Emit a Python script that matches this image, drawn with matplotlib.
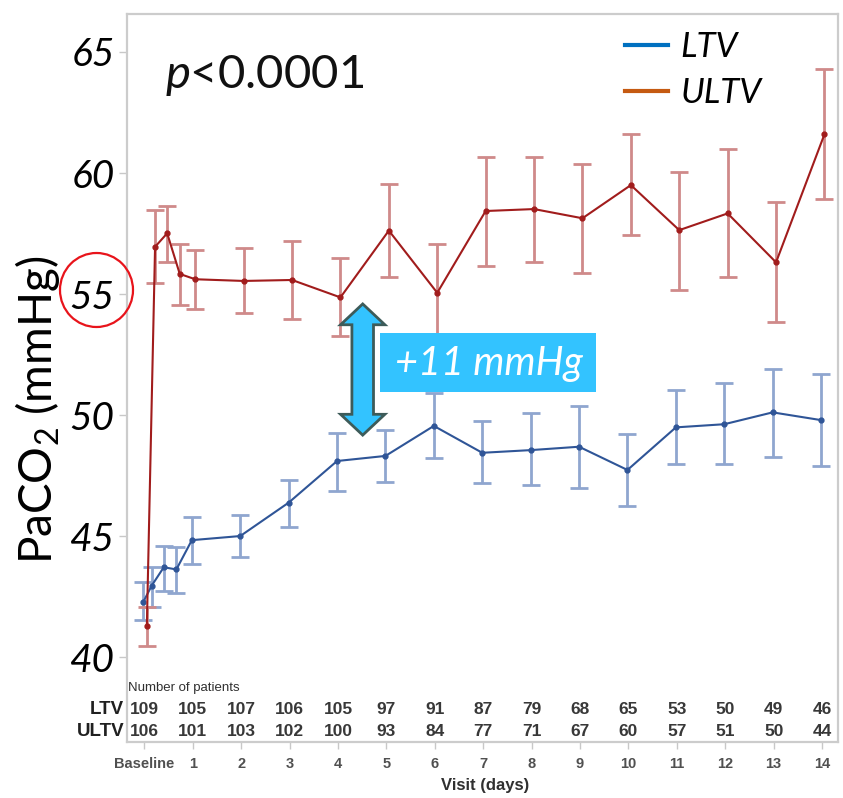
import matplotlib
matplotlib.use("Agg")
import matplotlib.pyplot as plt
from matplotlib.lines import Line2D
from matplotlib.patches import Ellipse, Polygon, Rectangle
import numpy as np

plt.rcParams['font.family'] = ['Lato', 'DejaVu Sans']
plt.rcParams['mathtext.fontset'] = 'custom'
plt.rcParams['mathtext.rm'] = 'Lato'
plt.rcParams['mathtext.it'] = 'Lato:italic'

# Visit time (days); baseline = 0, first day has extra early samples
TIME = [0, 0.17, 0.42, 0.68, 1, 2, 3, 4, 5, 6, 7, 8, 9, 10, 11, 12, 13, 14]

LTV_MEAN = [42.29, 42.95, 43.71, 43.62, 44.83, 45.00, 46.38, 48.10, 48.31,
            49.55, 48.44, 48.55, 48.69, 47.73, 49.49, 49.62, 50.11, 49.79]
LTV_LOW = [41.53, 42.05, 42.74, 42.66, 43.84, 44.14, 45.38, 46.87, 47.22,
           48.21, 47.20, 47.11, 46.97, 46.25, 47.98, 47.98, 48.25, 47.90]
LTV_HIGH = [43.09, 43.73, 44.59, 44.56, 45.77, 45.87, 47.31, 49.27, 49.38,
            50.89, 49.75, 50.07, 50.37, 49.20, 51.03, 51.31, 51.90, 51.68]

ULTV_MEAN = [41.28, 56.95, 57.51, 55.83, 55.61, 55.54, 55.58, 54.86, 57.62,
             55.05, 58.43, 58.51, 58.13, 59.50, 57.64, 58.33, 56.31, 61.60]
ULTV_LOW = [40.47, 55.44, 56.33, 54.55, 54.37, 54.20, 53.97, 53.26, 55.71,
            53.03, 56.16, 56.34, 55.88, 57.43, 55.17, 55.69, 53.83, 58.91]
ULTV_HIGH = [42.05, 58.47, 58.64, 57.07, 56.82, 56.89, 57.19, 56.47, 59.53,
             57.07, 60.67, 60.65, 60.36, 61.61, 60.05, 60.99, 58.79, 64.28]

DAYS = list(range(15))
DAY_LABELS = ["Baseline"] + [str(d) for d in range(1, 15)]
N_LTV = [109, 105, 107, 106, 105, 97, 91, 87, 79, 68, 65, 53, 50, 49, 46]
N_ULTV = [106, 101, 103, 102, 100, 93, 84, 77, 71, 67, 60, 57, 51, 50, 44]

Y_TICKS = [40, 45, 50, 55, 60, 65]
DIFF_LABEL = "+11 mmHg"

fig = plt.figure(figsize=(8.43, 7.98), dpi=100)
ax = fig.add_axes([127 / 843, 1 - 742 / 798, 711 / 843, 728 / 798])

series = [
    (LTV_MEAN, LTV_LOW, LTV_HIGH, -0.02, '#2F5597', '#8FA6CF'),
    (ULTV_MEAN, ULTV_LOW, ULTV_HIGH, 0.05, '#A11C1C', '#CF8A8A'),
]
for mean, low, high, dx, col, ecol in series:
    x = np.array(TIME) + dx
    m = np.array(mean)
    yerr = [m - np.array(low), np.array(high) - m]
    ax.errorbar(x, m, yerr=yerr, fmt='none', ecolor=ecol, elinewidth=2.0,
                capsize=6.5, capthick=2.0, zorder=2)
    ax.plot(x, m, '-o', color=col, lw=1.5, ms=3.5, zorder=3)

ax.set_xlim(-0.36, 14.33)
ax.set_ylim(36.49, 66.57)
ax.set_yticks(Y_TICKS)
ax.set_yticklabels([str(v) for v in Y_TICKS], fontsize=28, style='italic')
ax.set_xticks(DAYS)
ax.set_xticklabels(DAY_LABELS, fontsize=10.5, fontweight='bold',
                   family='Liberation Sans', color='#505050')
ax.tick_params(axis='y', length=6, width=1, color='#C8C8C8', pad=3)
ax.tick_params(axis='x', length=5, width=1, color='#C8C8C8', pad=6)
for sp in ax.spines.values():
    sp.set_color('#CCCCCC')
    sp.set_linewidth(1.6)

ax.set_ylabel(r'PaCO$_2$ (mmHg)', fontsize=33)
ax.yaxis.set_label_coords(-0.0914, 0.456)
ax.set_xlabel('Visit (days)', fontsize=12, fontweight='bold',
              family='Liberation Sans', color='#303030')
ax.xaxis.set_label_coords(0.5035, -0.05)

# number-at-risk table inside the axes
tr = ax.get_xaxis_transform()
ax.text(-0.33, 0.074, 'Number of patients', transform=tr, fontsize=9.5,
        family='Liberation Sans', color='#303030', va='center', ha='left')
for d, a, b in zip(DAYS, N_LTV, N_ULTV):
    ax.text(d, 0.044, str(a), transform=tr, ha='center', va='center',
            fontsize=12.5, fontweight='bold', family='Liberation Sans', color='#383838')
    ax.text(d, 0.015, str(b), transform=tr, ha='center', va='center',
            fontsize=12.5, fontweight='bold', family='Liberation Sans', color='#383838')
ax.text(-0.004, 0.044, 'LTV', transform=ax.transAxes, ha='right', va='center',
        fontsize=13.5, fontweight='bold', family='Liberation Sans', color='#202020')
ax.text(-0.004, 0.015, 'ULTV', transform=ax.transAxes, ha='right', va='center',
        fontsize=13.5, fontweight='bold', family='Liberation Sans', color='#202020')

# p value
ax.text(0.053, 0.915, r'$p$<0.0001', transform=ax.transAxes, fontsize=34,
        ha='left', va='center', color='#111111')

# legend
handles = [Line2D([], [], color='#0070C0', lw=3), Line2D([], [], color='#C55A11', lw=3)]
leg = ax.legend(handles, ['LTV', 'ULTV'], loc='upper left', frameon=False,
                bbox_to_anchor=(625 / 843, 1 - 31 / 798), bbox_transform=fig.transFigure,
                borderpad=0, borderaxespad=0, handlelength=1.25, handletextpad=0.35,
                labelspacing=0.4, prop={'family': 'Lato', 'style': 'italic', 'size': 25})

# double-headed arrow showing the gap
cx, y0, y1 = 4.51, 49.17, 54.59
hw, sw, hl = 0.458, 0.223, 0.86
arrow = [(cx, y1), (cx + hw, y1 - hl), (cx + sw, y1 - hl), (cx + sw, y0 + hl),
         (cx + hw, y0 + hl), (cx, y0), (cx - hw, y0 + hl), (cx - sw, y0 + hl),
         (cx - sw, y1 - hl), (cx - hw, y1 - hl)]
ax.add_patch(Polygon(arrow, closed=True, facecolor='#33C3FF', edgecolor='#3D5B59',
                     lw=2, zorder=5))
ax.add_patch(Rectangle((4.864, 50.96), 4.476, 2.42, facecolor='#33C3FF',
                       edgecolor='none', zorder=5))
ax.text(7.12, 52.12, DIFF_LABEL, ha='center', va='center', color='white',
        fontsize=28.5, style='italic', zorder=6)

# red circle highlighting 55
fig.patches.append(Ellipse((96.5 / 843, 1 - 290 / 798), 73 / 843, 74 / 798,
                           transform=fig.transFigure, fill=False,
                           edgecolor='#E8141B', lw=1.6))

fig.savefig('out.png', dpi=100)
